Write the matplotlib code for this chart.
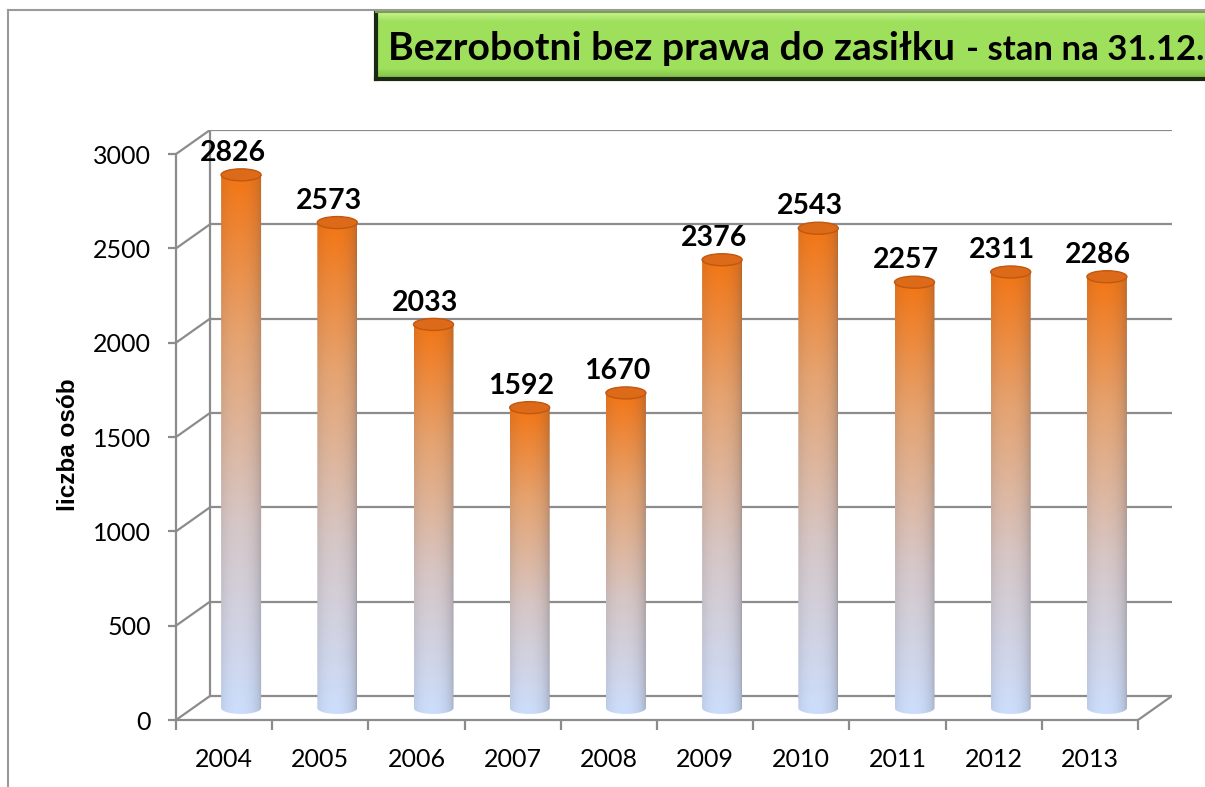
import numpy as np
import matplotlib
matplotlib.use("Agg")
import matplotlib.pyplot as plt
from matplotlib.path import Path
from matplotlib.patches import Ellipse, PathPatch
from matplotlib.lines import Line2D
from matplotlib.ticker import FixedLocator, NullFormatter

years = ["2004", "2005", "2006", "2007", "2008", "2009", "2010", "2011", "2012", "2013"]
values = [2826, 2573, 2033, 1592, 1670, 2376, 2543, 2257, 2311, 2286]
y_ticks = [0, 500, 1000, 1500, 2000, 2500, 3000]
title_main = "Bezrobotni bez prawa do zasiłku"
title_sub = "- stan na 31.12."
y_label = "liczba osób"

W, H = 1205, 787
fig = plt.figure(figsize=(W / 100, H / 100), dpi=100)
fig.patch.set_facecolor("white")

# outer frame lines (figure coords)
fig.add_artist(Line2D([8 / W, 8 / W], [0, 1 - 10 / H], color="#9a9a9a", lw=1.5))
fig.add_artist(Line2D([8 / W, 1], [1 - 10 / H, 1 - 10 / H], color="#9a9a9a", lw=1.5))

grey = "#8c8c8c"
ax = fig.add_axes([176 / W, (H - 720) / H, (1172 - 176) / W, (720 - 130) / H])
n = len(years)
cat_px = (1138 - 176) / n
DX = 34 / cat_px
DY = 24 / 565 * 3000
ax.set_facecolor("none")
for s in ["top", "right"]:
    ax.spines[s].set_visible(False)
for s in ["left", "bottom"]:
    ax.spines[s].set_color(grey)
    ax.spines[s].set_linewidth(1.6)
ax.spines["left"].set_bounds(0, 3000)
ax.spines["bottom"].set_bounds(-0.5, n - 0.5)

# back wall & floor
glw = 1.6
for v in y_ticks:
    ax.plot([-0.5 + DX, n - 0.5 + DX], [v + DY, v + DY], color=grey, lw=glw, zorder=1,
            solid_capstyle="butt")
    ax.plot([-0.5, -0.5 + DX], [v, v + DY], color=grey, lw=glw, zorder=1)
ax.plot([-0.5 + DX, -0.5 + DX], [DY, 3000 + DY], color=grey, lw=glw, zorder=1)
ax.plot([n - 0.5, n - 0.5 + DX], [0, DY], color=grey, lw=glw, zorder=1)

# ticks
ax.yaxis.set_major_locator(FixedLocator(y_ticks))
ax.tick_params(axis="y", direction="out", length=6, width=1.6, color=grey, pad=12,
               labelsize=18, labelcolor="black")
ax.xaxis.set_major_locator(FixedLocator(np.arange(-0.5, n, 1.0)))
ax.xaxis.set_major_formatter(NullFormatter())
ax.set_xticks(np.arange(n), labels=years, minor=True)
ax.tick_params(axis="x", which="major", direction="out", length=7, width=1.6, color=grey)
ax.tick_params(axis="x", which="minor", length=0, pad=20, labelsize=18, labelcolor="black")
for lab in ax.get_yticklabels() + ax.get_xticklabels(minor=True):
    lab.set_fontfamily("Lato")

ax.set_ylabel(y_label, fontsize=17.5, fontweight="bold", family="Liberation Sans")
ax.yaxis.set_label_coords((80 - 176) / 996, (720 - 445) / 590)

# cylinders
bw = 40 / cat_px
eh = 12 / 565 * 3000
stops_t = np.array([0.0, 0.35, 0.7, 1.0])
stops_c = np.array([
    [0.80, 0.87, 0.99],
    [0.84, 0.78, 0.78],
    [0.90, 0.64, 0.44],
    [0.95, 0.46, 0.08],
])
ny, nx = 200, 60
tt = np.linspace(0, 1, ny)
uu = np.linspace(-1, 1, nx)[None, :]
base = np.stack([np.interp(tt, stops_t, stops_c[:, k]) for k in range(3)], axis=-1)
shade = 0.58 + 0.42 * np.sqrt(np.clip(1 - ((uu + 0.15) / 1.15) ** 2, 0, 1))
shade = shade ** 0.8
dark = np.array([0.45, 0.45, 0.50])
rgb = base[:, None, :] * shade[..., None] + dark[None, None, :] * (1 - shade[..., None]) * 0.6
rgb = np.clip(rgb, 0, 1)[::-1]

for i, v in enumerate(values):
    cx = i + DX / 2
    ybot = DY / 2
    ytop = v + DY / 2
    x0, x1 = cx - bw / 2, cx + bw / 2
    th = np.linspace(np.pi, 2 * np.pi, 40)
    arc = np.column_stack([cx + bw / 2 * np.cos(th), ybot + eh / 2 * np.sin(th)])
    verts = [(x0, ytop)] + [tuple(p) for p in arc] + [(x1, ytop), (x0, ytop)]
    codes = [Path.MOVETO] + [Path.LINETO] * (len(verts) - 2) + [Path.CLOSEPOLY]
    clip = PathPatch(Path(verts, codes), transform=ax.transData, facecolor="none",
                     edgecolor="none")
    ax.add_patch(clip)
    im = ax.imshow(rgb, extent=(x0, x1, ybot - eh / 2, ytop), aspect="auto", zorder=3,
                   interpolation="bilinear")
    im.set_clip_path(clip)
    top = Ellipse((cx, ytop), bw, eh, facecolor="#dc6a18", edgecolor="#c05810", lw=1.0,
                  zorder=4)
    ax.add_patch(top)
    ax.text(i + DX / 4, ytop + eh / 2 + 42, str(v), ha="center", va="baseline", fontsize=20.5,
            fontweight="bold", family="Lato", zorder=5)

ax.set_xlim(-0.5, n - 0.5 + DX)
ax.set_ylim(0, 3000 + DY)

# title box
tax = fig.add_axes([376 / W, (H - 79) / H, (W - 376) / W + 0.02, 67 / H])
cols = np.zeros((100, 1, 3))
c_top = np.array([0.80, 0.96, 0.58])
c_mid = np.array([0.62, 0.88, 0.36])
c_bot = np.array([0.50, 0.74, 0.28])
for k in range(100):
    t = k / 99
    if t < 0.15:
        c = c_top + (c_mid - c_top) * (t / 0.15)
    elif t < 0.85:
        c = c_mid
    else:
        c = c_mid + (c_bot - c_mid) * ((t - 0.85) / 0.15)
    cols[k, 0] = c
tax.imshow(cols, extent=(0, 1, 0, 1), aspect="auto", interpolation="bilinear")
tax.set_xlim(0, 1)
tax.set_ylim(0, 1)
tax.set_xticks([])
tax.set_yticks([])
for s in ["left", "bottom"]:
    tax.spines[s].set_color("#1a2a10")
    tax.spines[s].set_linewidth(3)
tax.spines["top"].set_color("#7aa04a")
tax.spines["top"].set_linewidth(1.5)
tax.spines["right"].set_visible(False)

fig.text(388 / W, 1 - 60 / H, title_main, fontsize=28.3, fontweight="bold", family="Lato",
         ha="left", va="baseline")
fig.text(966 / W, 1 - 60 / H, title_sub, fontsize=25, fontweight="bold", family="Lato",
         ha="left", va="baseline")

fig.savefig("out.png", dpi=100)
